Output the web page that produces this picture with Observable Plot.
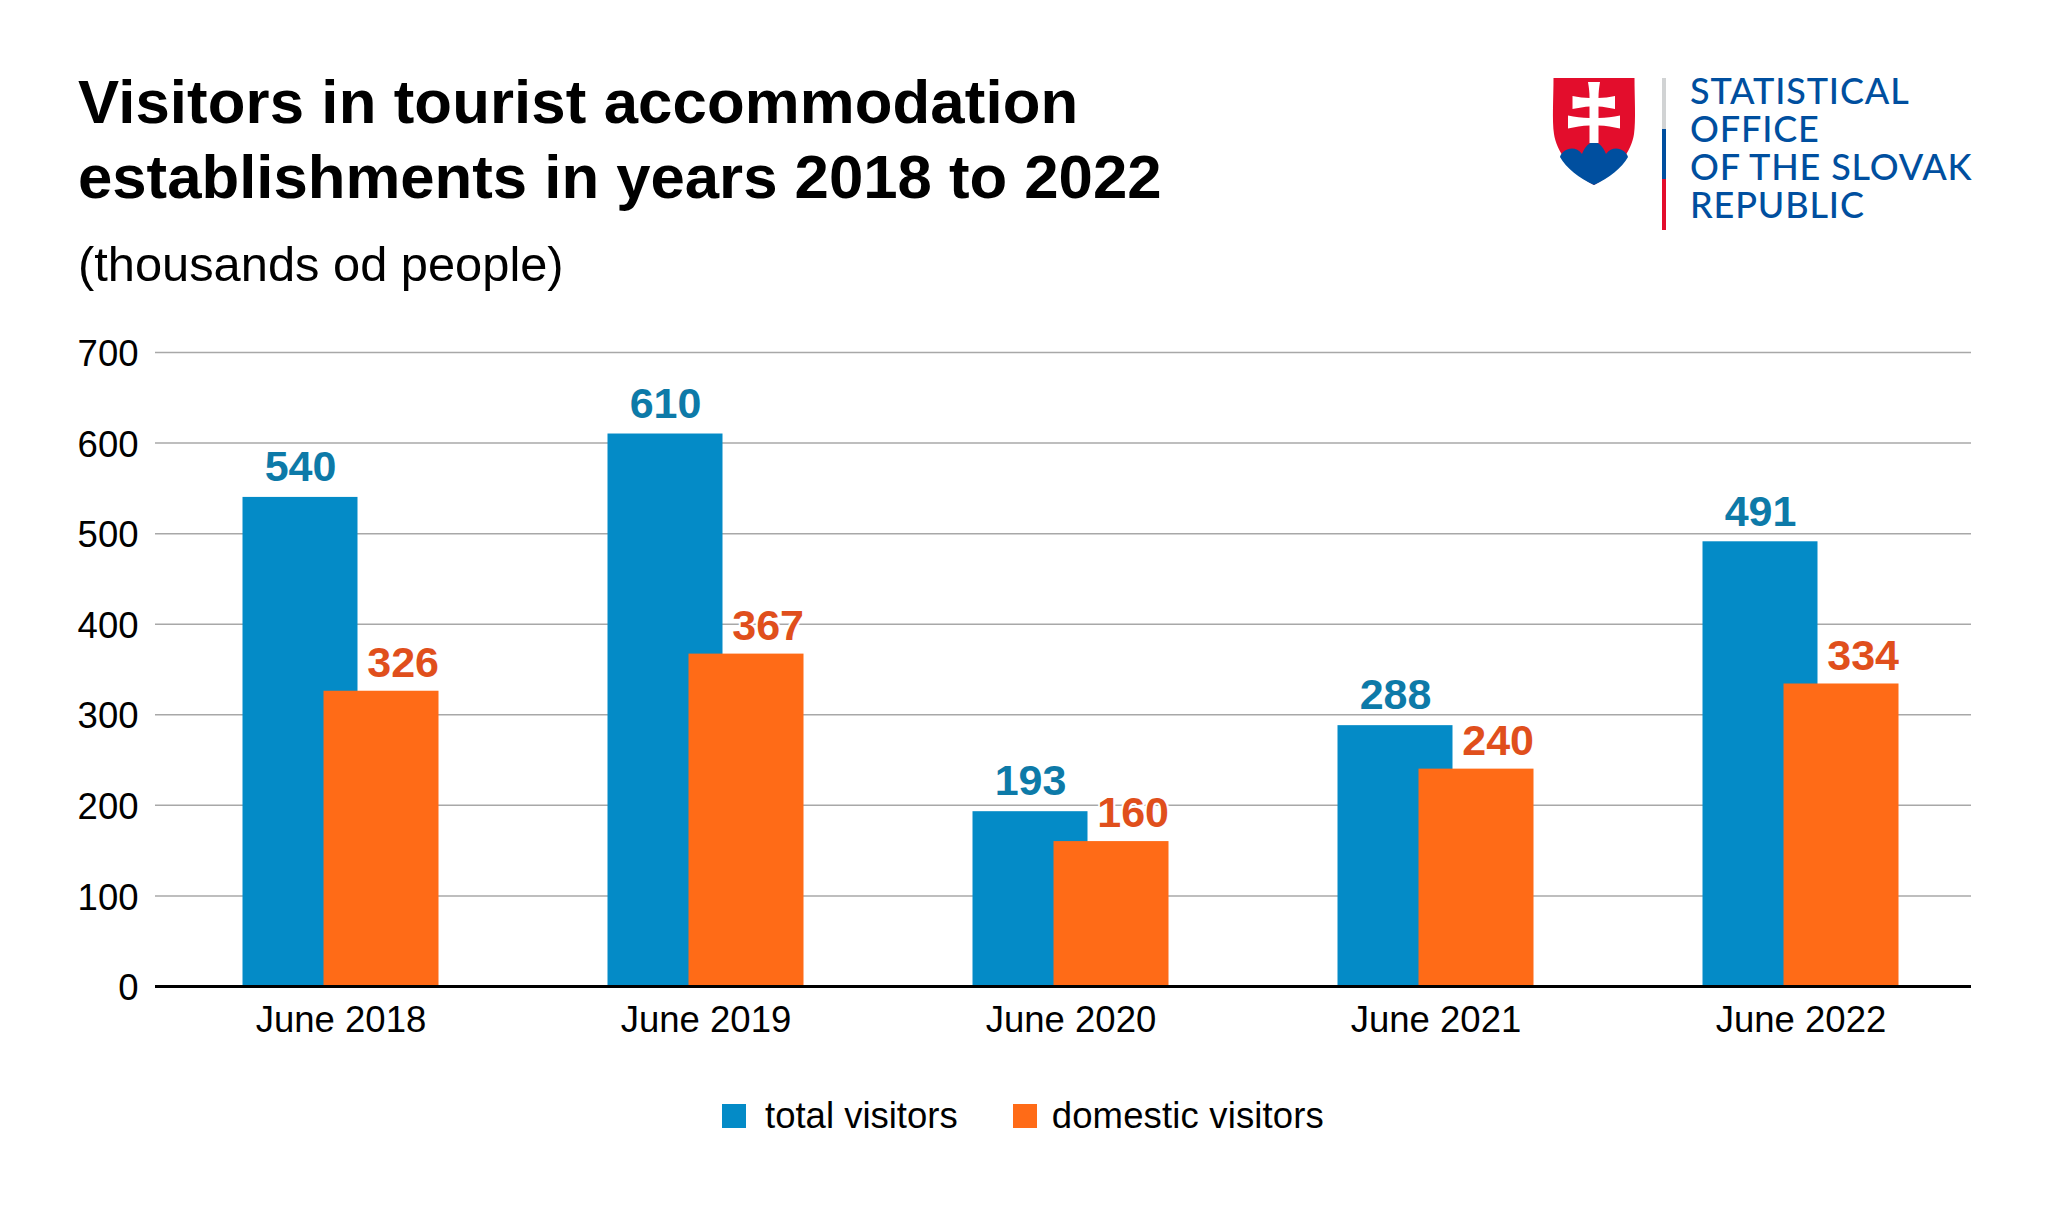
<!DOCTYPE html>
<html>
<head>
<meta charset="utf-8">
<script src="https://cdn.jsdelivr.net/npm/d3@7"></script>
<script src="https://cdn.jsdelivr.net/npm/@observablehq/plot@0.6"></script>
<style>
  html,body{margin:0;padding:0;background:#fff;}
  body{width:2048px;height:1210px;overflow:hidden;font-family:"Liberation Sans",Arial,sans-serif;color:#000;}
  #header{position:relative;width:2048px;height:300px;}
  #title{position:absolute;left:78px;top:64px;font-size:61.7px;line-height:75px;font-weight:700;white-space:nowrap;}
  #title .l1{letter-spacing:0.12px;}
  #subtitle{position:absolute;left:78px;top:234px;font-size:48.8px;line-height:60px;white-space:nowrap;}
  #shield{position:absolute;left:1552px;top:78px;}
  #sep{position:absolute;left:1662px;top:78px;width:4px;height:152px;background:linear-gradient(#d1d3d4 0 33.3%,#004f9f 33.3% 66.6%,#e30d2c 66.6%);}
  #org{position:absolute;left:1690px;top:71px;font-family:Lato,sans-serif;font-weight:500;font-size:36px;color:#004f9f;letter-spacing:0.85px;white-space:nowrap;}
  #org div{height:38px;line-height:38px;}
  #chart svg{display:block;}
  #legend{display:flex;align-items:center;padding-left:722px;margin-top:64px;font-size:36.5px;line-height:24px;height:24px;}
  #legend i{display:block;width:24px;height:24px;margin-right:19px;}
  #legend i.second{margin-right:15px;}
  #legend span{margin-right:55px;white-space:nowrap;}
  #legend span.second{letter-spacing:0.15px;}
</style>
</head>
<body>
<div id="header">
  <div id="title"><span class="l1">Visitors in tourist accommodation</span><br>establishments in years 2018 to 2022</div>
  <div id="subtitle">(thousands od people)</div>
  <svg id="shield" width="84" height="108" viewBox="0 0 84 108">
    <path d="M1.5,0H82.5C82.5,20 84,42 82,56C80,72 64,96 42,107C20,96 4,72 2,56C0,42 1.5,20 1.5,0Z" fill="#e30d2c"/>
    <path d="M8,79C10,71 23,66 30,76C33,68 38,64 42,64C46,64 51,68 54,76C61,66 74,71 76,79C70,90 57,100 42,107C27,100 14,90 8,79Z" fill="#004f9f"/>
    <path d="M36,4H48C47,10 46.5,14 46.5,20C51,20 58,19 63,18V31C58,30 51,28.5 46.5,28.5V40C54,40 61,39 68,37.5V50.5C61,49 54,47.5 46.5,47.5V65H37.5V47.5C30,47.5 23,49 16,50.5V37.5C23,39 30,40 37.5,40V28.5C33,28.5 26,30 20.5,31V18C26,19 33,20 37.5,20C37.5,14 37,10 36,4Z" fill="#fff"/>
  </svg>
  <div id="sep"></div>
  <div id="org"><div>STATISTICAL</div><div>OFFICE</div><div>OF THE SLOVAK</div><div>REPUBLIC</div></div>
</div>
<div id="chart"></div>
<div id="legend">
  <i style="background:#048bc7"></i><span>total visitors</span>
  <i class="second" style="background:#ff6b17"></i><span class="second">domestic visitors</span>
</div>
<script>
const periods = ["June 2018","June 2019","June 2020","June 2021","June 2022"];
const totalVisitors = [540,610,193,288,491];
const domesticVisitors = [326,367,160,240,334];
const yTicks = [0,100,200,300,400,500,600,700];

const totalRows = periods.map((p,i)=>({period:p,value:totalVisitors[i]}));
const domesticRows = periods.map((p,i)=>({period:p,value:domesticVisitors[i]}));

const font = '"Liberation Sans",Arial,sans-serif';
const plot = Plot.plot({
  width:2048, height:740,
  marginTop:52, marginBottom:54, marginLeft:155, marginRight:77,
  style:{fontFamily:font, background:"#fff", color:"#000", overflow:"visible"},
  x:{type:"band", domain:periods, range:[156,1985], paddingInner:0.6856, paddingOuter:0.3428, label:null},
  y:{domain:[0,700], label:null},
  marks:[
    Plot.gridY(yTicks,{stroke:"#a8a8a8",strokeOpacity:1,strokeWidth:1.5}),
    Plot.barY(totalRows,{x:"period",y:"value",fill:"#048bc7",dx:-40.5}),
    Plot.barY(domesticRows,{x:"period",y:"value",fill:"#ff6b17",dx:40.5}),
    Plot.ruleY([0],{stroke:"#000",strokeWidth:3}),
    Plot.text(totalRows,{x:"period",y:"value",text:"value",dx:-40.5,dy:-30,fill:"#0d7aa8",stroke:"#fff",strokeWidth:4,paintOrder:"stroke",fontWeight:700,fontSize:43}),
    Plot.text(domesticRows,{x:"period",y:"value",text:"value",dx:98,dy:-28,textAnchor:"end",fill:"#e04f1c",stroke:"#fff",strokeWidth:4,paintOrder:"stroke",fontWeight:700,fontSize:43}),
    Plot.axisY({ticks:yTicks,tickSize:0,tickPadding:17,fontSize:36.5,dy:2,label:null,tickFormat:d=>String(d)}),
    Plot.axisX({tickSize:0,tickPadding:20,fontSize:36.5,label:null})
  ]
});
document.getElementById("chart").appendChild(plot);
</script>
</body>
</html>
